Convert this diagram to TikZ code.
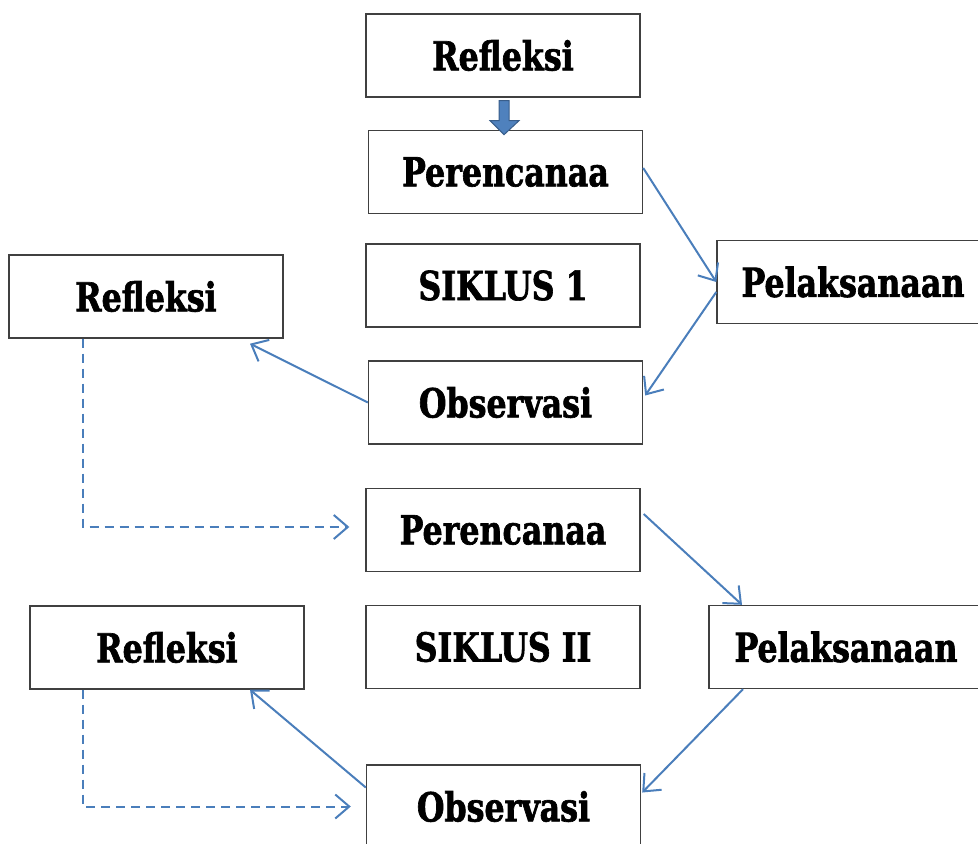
\documentclass[tikz,border=0pt]{standalone}
\usepackage{fontspec}
\setmainfont{DejaVu Serif Condensed}[BoldFeatures={FakeStretch=0.88,FakeBold=1.6}]
\usetikzlibrary{arrows.meta,calc}
\definecolor{lineblue}{HTML}{4A7EBB}
\definecolor{boxgray}{HTML}{404040}
\definecolor{arrowfill}{HTML}{4F81BD}
\definecolor{arrowedge}{HTML}{385D8A}
\begin{document}
\begin{tikzpicture}[x=1pt,y=-1pt,
  box/.style={draw=boxgray, line width=1.4pt, fill=white, minimum width=274pt, minimum height=83pt, inner sep=0pt, font=\fontsize{40}{46}\selectfont\bfseries},
  conn/.style={draw=lineblue, line width=2pt, -{Straight Barb[length=14pt,width=24pt]}},
  dconn/.style={conn, dash pattern=on 9pt off 6pt},
  blockarr/.style={fill=arrowfill, draw=arrowedge, line width=1pt}]
\useasboundingbox (0,0) rectangle (978,844);
\clip (0,0) rectangle (978,844);
\node[box] (r0) at (503,55.5) {Refleksi};
\node[box] (p1) at (505.5,172) {Perencanaa};
\node[box] (s1) at (503,285.5) {SIKLUS 1};
\node[box] (o1) at (505.5,402.5) {Observasi};
\node[box, minimum width=272pt] (pl1) at (853,282) {Pelaksanaan};
\node[box] (rl1) at (146,296.5) {Refleksi};
\node[box] (p2) at (503,530) {Perencanaa};
\node[box] (s2) at (503,647) {SIKLUS II};
\node[box] (pl2) at (846,647) {Pelaksanaan};
\node[box] (rl2) at (167,647.5) {Refleksi};
\node[box] (o2) at (503.5,806.5) {Observasi};
\draw[blockarr] ($(r0.south)+(-4,3)$) -- ++(10,0) -- ++(0,20) -- ++(10,0) -- ++(-15,14) -- ++(-14,-14) -- ++(9,0) -- cycle;
\draw[conn] ($(p1.east)+(0,-4)$) -- (pl1.west);
\draw[conn] ($(pl1.west)+(0,10)$) -- ($(o1.east)+(2,-7)$);
\draw[conn] (o1.west) -- ($(rl1.south)+(104,5)$);
\draw[dconn] ($(rl1.south)+(-63,0)$) |- ($(p2.west)+(-16,-3)$);
\draw[conn] ($(p2.east)+(3,-16)$) -- ($(pl2.north)+(-104,0)$);
\draw[conn] ($(pl2.south)+(-103,0)$) -- ($(o2.east)+(1,-14)$);
\draw[conn] ($(o2.west)+(0,-19)$) -- ($(rl2.south)+(83,0)$);
\draw[dconn] ($(rl2.south)+(-84,0)$) |- ($(o2.west)+(-15,0)$);
\end{tikzpicture}
\end{document}
